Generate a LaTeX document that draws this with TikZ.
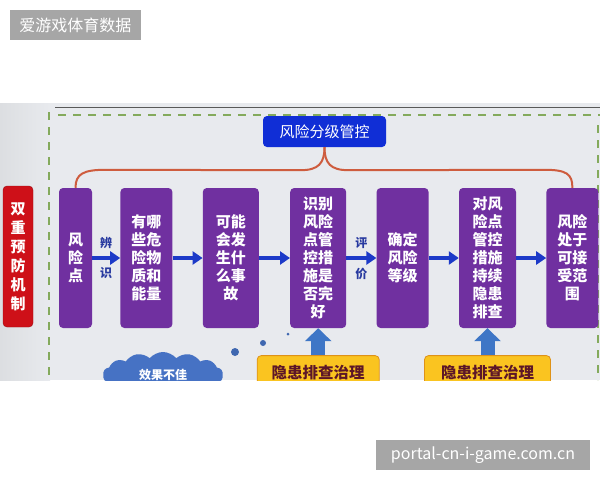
\documentclass[tikz,border=0pt]{standalone}
\usepackage{fontspec}
\newfontfamily\cjk{Noto Sans CJK SC}
\usetikzlibrary{arrows.meta,positioning,calc,shapes.symbols}
\definecolor{riskpurple}{RGB}{112,48,160}
\definecolor{mechred}{RGB}{206,16,24}
\definecolor{controlblue}{RGB}{16,46,214}
\definecolor{checkyellow}{RGB}{250,196,32}
\definecolor{checkedge}{RGB}{222,146,24}
\definecolor{checktext}{RGB}{92,22,40}
\definecolor{flowblue}{RGB}{28,58,200}
\definecolor{liftblue}{RGB}{62,118,198}
\definecolor{cloudblue}{RGB}{70,114,196}
\definecolor{tagblue}{RGB}{40,58,160}
\definecolor{guidegreen}{RGB}{132,170,92}
\definecolor{braceorange}{RGB}{206,92,62}
\definecolor{bandgray}{RGB}{232,234,238}
\definecolor{sidegray}{RGB}{220,222,225}
\definecolor{wmgray}{RGB}{166,166,166}
\tikzset{
  stage/.style={fill=riskpurple,rounded corners=4pt,text=white,inner sep=0pt,
    minimum height=140pt,align=center,font=\cjk\bfseries\fontsize{15}{18}\selectfont},
  mechanism/.style={fill=mechred,draw=mechred!75!black,rounded corners=4pt,text=white,
    inner sep=0pt,minimum width=30pt,minimum height=141pt,align=center,
    font=\cjk\bfseries\fontsize{15}{19}\selectfont},
  control/.style={fill=controlblue,rounded corners=4pt,text=white,inner sep=0pt,
    minimum width=123pt,minimum height=31pt,font=\cjk\fontsize{15}{15}\selectfont},
  check/.style={fill=checkyellow,draw=checkedge,thick,rounded corners=4pt,text=checktext,
    inner sep=0pt,minimum width=122pt,minimum height=34pt,
    font=\cjk\bfseries\fontsize{15.5}{15.5}\selectfont},
  cloudy/.style={cloud,cloud puffs=14,cloud puff arc=100,aspect=2.6,fill=cloudblue,
    text=white,inner sep=0pt,minimum width=120pt,minimum height=46pt,
    font=\cjk\bfseries\fontsize{12}{12}\selectfont},
  dot/.style={circle,fill=cloudblue!90!black,inner sep=0pt},
  tag/.style={text=tagblue,inner sep=0pt,font=\cjk\bfseries\fontsize{12}{12}\selectfont},
  flow/.style={-{Triangle[length=10pt,width=13pt]},line width=3.5pt,draw=flowblue},
  lift/.style={-{Triangle[length=13pt,width=26pt]},line width=14pt,draw=liftblue},
  brace/.style={draw=braceorange,line width=2pt},
  guide/.style={draw=guidegreen,line width=2.5pt,dash pattern=on 8pt off 7pt},
  wmbox/.style={fill=wmgray,text=white,inner sep=0pt,minimum height=30pt,
    font=\cjk\fontsize{16}{16}\selectfont}
}
\begin{document}
\begin{tikzpicture}[x=1pt,y=-1pt,node distance=30pt]
\useasboundingbox (0,0) rectangle (600,480);
\begin{scope}
\clip (0,103) rectangle (600,380);
\fill[bandgray] (0,103) rectangle (600,380);
\shade[left color=sidegray,right color=bandgray] (0,103) rectangle (50,380);
\draw[gray!70!black,line width=1pt] (55,107) -- (600,107);
\draw[guide] (49,112) -- (49,380);
\draw[guide] (58,115) -- (600,115);
\draw[guide] (598,125) -- (598,380);
% mechanism and stages
\node[mechanism] (mech) at (18,256.5) {双\\重\\预\\防\\机\\制};
\node[stage,minimum width=33pt] (p1) at (75.5,258) {风\\险\\点};
\node[stage,minimum width=52pt,right=28pt of p1] (p2) {有哪\\些危\\险物\\质和\\能量};
\node[stage,minimum width=56pt,right=of p2] (p3) {可能\\会发\\生什\\么事\\故};
\node[stage,minimum width=56pt,right=31pt of p3] (p4) {识别\\风险\\点管\\控措\\施是\\否完\\好};
\node[stage,minimum width=52pt,right=of p4] (p5) {确定\\风险\\等级};
\node[stage,minimum width=57pt,right=of p5] (p6) {对风\\险点\\管控\\措施\\持续\\隐患\\排查};
\node[stage,minimum width=52pt,right=of p6] (p7) {风险\\处于\\可接\\受范\\围};
\draw[flow] (p1) -- node[tag,above=8pt] (t1) {辨} node[tag,below=8pt] (t2) {识} (p2);
\draw[flow] (p2) -- (p3);
\draw[flow] (p3) -- (p4);
\draw[flow] (p4) -- node[tag,above=8pt] (t3) {评} node[tag,below=8pt] (t4) {价} (p5);
\draw[flow] (p5) -- (p6);
\draw[flow] (p6) -- (p7);
% grading brace
\node[control] (top) at (324.5,131.5) {风险分级管控};
\draw[brace] (p1.north) .. controls +(0,-14) and +(-22,0) .. ($(p1.north)+(30,-18)$)
  -- ($(top.south)+(-24,23)$) .. controls +(18,0) and +(0,16) .. (top.south);
\draw[brace] (top.south) .. controls +(0,16) and +(-18,0) .. ($(top.south)+(24,23)$)
  -- ($(p7.north)+(-28,-18)$) .. controls +(22,0) and +(0,-14) .. (p7.north);
% hidden danger checks
\node[check,below=27pt of p4] (y1) {隐患排查治理};
\node[check,minimum width=126pt,below=27pt of p6] (y2) {隐患排查治理};
\draw[lift] (y1) -- (p4);
\draw[lift] (y2) -- (p6);
\node[cloudy] (cloud) at (163,375) {效果不佳};
\node[dot,minimum size=8pt] (d1) at (235,352) {};
\node[dot,minimum size=6pt] (d2) at (263,343) {};
\node[dot,minimum size=3pt] (d3) at (288,334) {};
\end{scope}
\node[wmbox,minimum width=131pt] (wm1) at (75.5,25) {爱游戏体育数据};
\node[wmbox,minimum width=214pt] (wm2) at (483,455) {portal-cn-i-game.com.cn};
\end{tikzpicture}
\end{document}
